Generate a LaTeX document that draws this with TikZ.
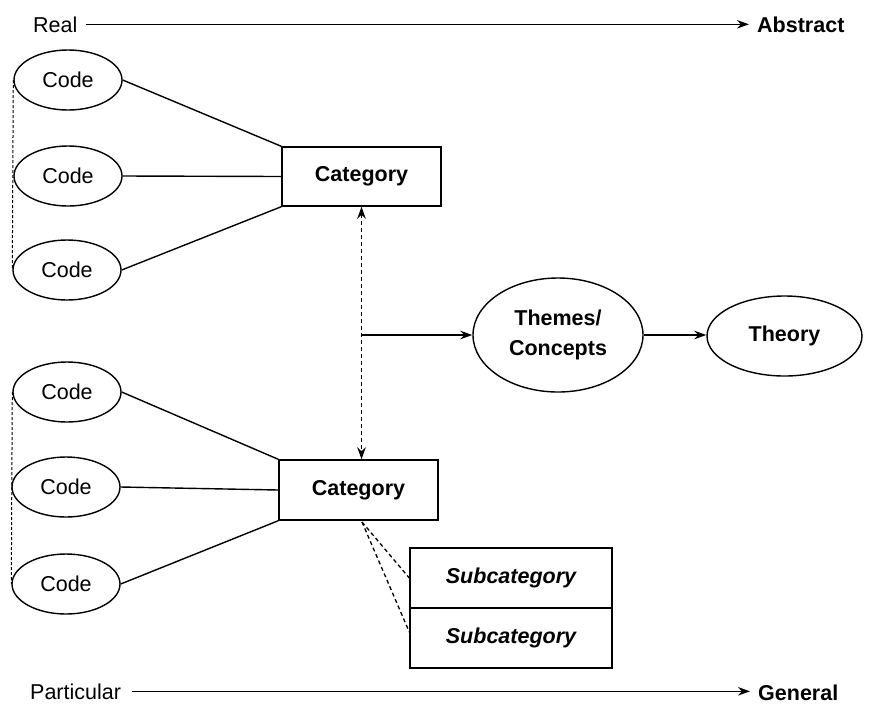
\documentclass[tikz,border=0pt]{standalone}
\usepackage{fontspec}
\setmainfont{Liberation Sans}
\usetikzlibrary{shapes.geometric,arrows.meta}
\begin{document}
\begin{tikzpicture}[x=1pt,y=-1pt,
  txt/.style={font=\fontsize{21.5}{30}\selectfont},
  boldtxt/.style={font=\bfseries\fontsize{21.5}{30}\selectfont},
  codeell/.style={draw, ellipse, line width=1.4pt, minimum width=108pt, minimum height=60pt, inner sep=0pt, txt},
  bigell/.style={draw, ellipse, line width=1.4pt, inner sep=0pt, align=center, boldtxt},
  catbox/.style={draw, rectangle, line width=1.4pt, minimum width=159pt, minimum height=59pt, inner sep=0pt, boldtxt},
  subbox/.style={draw, rectangle, line width=1.4pt, minimum width=202pt, minimum height=60pt, inner sep=0pt, font=\bfseries\itshape\fontsize{21.5}{30}\selectfont},
  axislabel/.style={inner xsep=8pt, inner ysep=2pt},
  link/.style={line width=1.4pt},
  tip/.tip={Stealth[length=12pt,width=8.5pt]},
  arr/.style={line width=1.4pt, -tip},
  dashlink/.style={line width=1.3pt, dash pattern=on 4pt off 3pt},
  thindash/.style={line width=1pt, dash pattern=on 3pt off 2pt}
]
\useasboundingbox (0,0) rectangle (880,705);

% axes
\node[txt, axislabel, anchor=base west] (real) at (25,32) {Real};
\node[boldtxt, axislabel, anchor=base west] (abstract) at (749,32) {Abstract};
\draw[arr] (real.east) -- (abstract.west);
\node[txt, axislabel, anchor=base west] (particular) at (22,699) {Particular};
\node[boldtxt, axislabel, anchor=base west] (general) at (750,700) {General};
\draw[arr] ([xshift=3pt]particular.east) -- (general.west |- particular.east);

% upper group
\node[codeell] (c1) at (68,80) {Code};
\node[codeell] (c2) at (68,176) {Code};
\node[codeell] (c3) at (67,270) {Code};
\node[catbox] (cat1) at (361.5,176.5) {Category};
\draw[link] (c1.east) -- (cat1.north west);
\draw[link] (c2.east) -- (cat1.west);
\draw[link] (c3.east) -- (cat1.south west);
\draw[thindash] (c1.west) -- (c3.west);

% lower group
\node[codeell] (d1) at (67,392) {Code};
\node[codeell] (d2) at (66,487) {Code};
\node[codeell] (d3) at (66,584) {Code};
\node[catbox, minimum height=60pt] (cat2) at (358.5,490) {Category};
\draw[link] (d1.east) -- (cat2.north west);
\draw[link] (d2.east) -- (cat2.west);
\draw[link] (d3.east) -- (cat2.south west);
\draw[thindash] (d1.west) -- (d3.west);

% themes and theory
\node[bigell, minimum width=170pt, minimum height=114pt] (themes) at (558,335) {Themes/\\Concepts};
\node[bigell, minimum width=155pt, minimum height=80pt] (theory) at (784.5,336) {Theory};

\draw[dashlink, tip-tip] (cat1.south) -- (cat1.south |- cat2.north);
\draw[arr] (cat1.south |- themes.west) -- (themes.west);
\draw[arr] (themes.east) -- (themes.east -| theory.west);

% subcategories
\node[subbox] (sub1) at (511,578) {Subcategory};
\node[subbox] (sub2) at (511,638) {Subcategory};
\coordinate (sp) at (362,522);
\draw[dashlink] (sp) -- (sub1.west);
\draw[dashlink] (sp) -- ([yshift=6pt]sub2.west);
\end{tikzpicture}
\end{document}
